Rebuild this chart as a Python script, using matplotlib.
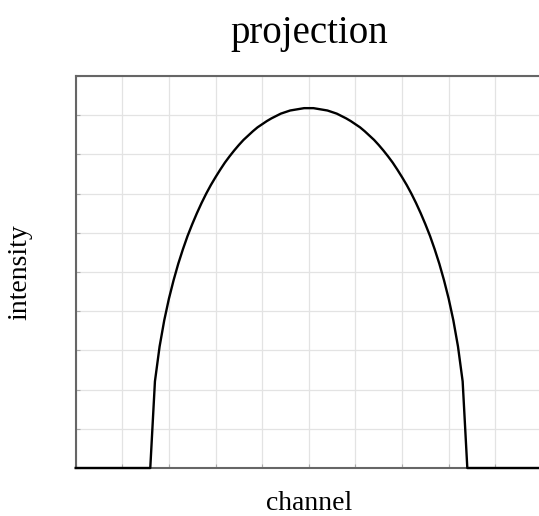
import numpy as np
import matplotlib
matplotlib.use("Agg")
import matplotlib.pyplot as plt

plt.rcParams['font.family'] = ['Liberation Serif', 'DejaVu Serif']

# channel positions and projected intensity
CHANNEL = [0.0] + [round(1.6 + 0.1 * i, 1) for i in range(69)] + [10.0]
INTENSITY = ([0.0, 0.0, 2.21, 3.10, 3.77, 4.32, 4.79, 5.21, 5.58, 5.92, 6.22,
              6.50, 6.76, 7.00, 7.22, 7.42, 7.61, 7.79, 7.95, 8.10, 8.24,
              8.37, 8.48, 8.59, 8.69, 8.77, 8.85, 8.92, 8.98, 9.04, 9.08,
              9.12, 9.14, 9.16, 9.18, 9.18]
             + [9.18, 9.16, 9.14, 9.12, 9.08, 9.04, 8.98, 8.92, 8.85, 8.77,
                8.69, 8.59, 8.48, 8.37, 8.24, 8.10, 7.95, 7.79, 7.61, 7.42,
                7.22, 7.00, 6.76, 6.50, 6.22, 5.92, 5.58, 5.21, 4.79, 4.32,
                3.77, 3.10, 2.21, 0.0, 0.0])
GRID_TICKS = list(range(0, 11))

fig = plt.figure(figsize=(5.39, 5.16), dpi=100)
ax = fig.add_axes([0.1404, 0.093, 0.865, 0.7597])

ax.plot(CHANNEL, INTENSITY, color='black', lw=1.7, zorder=3, clip_on=False)

ax.set_xlim(0, 10)
ax.set_ylim(0, 10)
ax.set_xticks(GRID_TICKS)
ax.set_yticks(GRID_TICKS)
ax.set_xticklabels([])
ax.set_yticklabels([])
ax.tick_params(direction='in', length=3, width=0.8, color='#aaaaaa')
ax.grid(True, color='#e3e3e3', lw=0.9)
for sp in ax.spines.values():
    sp.set_color('#666666')
    sp.set_linewidth(1.5)

ax.set_title('projection', fontsize=28, pad=24)
ax.set_xlabel('channel', fontsize=20, labelpad=13)
ax.set_ylabel('intensity', fontsize=20, labelpad=28)

fig.savefig('out.png', dpi=100)
